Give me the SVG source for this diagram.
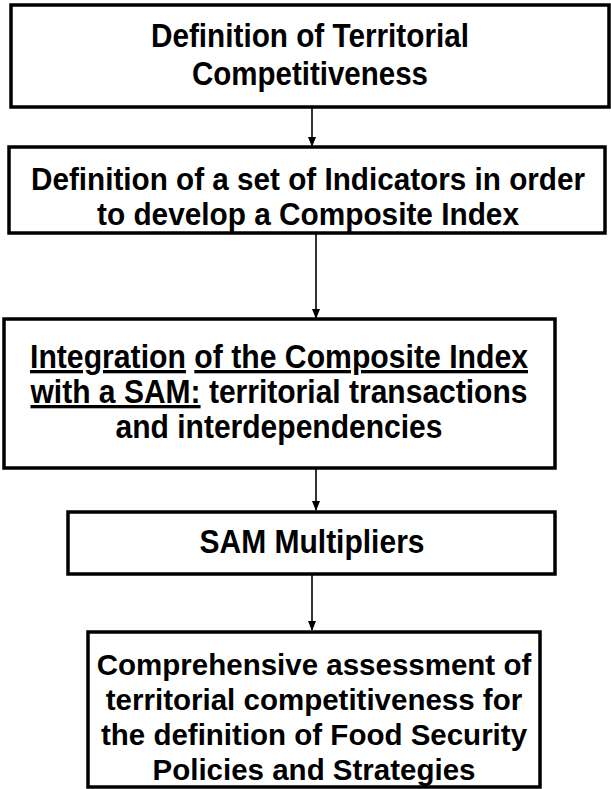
<svg xmlns="http://www.w3.org/2000/svg" width="611" height="789" viewBox="0 0 611 789">
<style>
.box{fill:#fff;stroke:#000;stroke-width:3.5}
.t{font-family:"Liberation Sans",Arial,sans-serif;font-weight:bold;font-size:33px;fill:#000;text-anchor:middle}
.t2{font-size:31px}
.t5{font-family:"Liberation Sans",Arial,sans-serif;font-weight:bold;font-size:29.5px;fill:#000;text-anchor:middle}
.u{text-decoration:underline}
.c{stroke:#000;stroke-width:1.6;fill:none}
</style>
<defs>
<marker id="ah" markerWidth="10" markerHeight="10" refX="9" refY="4" orient="auto" markerUnits="userSpaceOnUse" viewBox="0 0 10 8">
<path d="M0,0 L10,4 L0,8 Z" fill="#000"/>
</marker>
</defs>
<g id="connectors">
<line class="c" x1="312" y1="107" x2="312" y2="146" marker-end="url(#ah)"/>
<line class="c" x1="316" y1="233" x2="316" y2="318" marker-end="url(#ah)"/>
<line class="c" x1="316" y1="468" x2="316" y2="510" marker-end="url(#ah)"/>
<line class="c" x1="312" y1="574" x2="312" y2="630" marker-end="url(#ah)"/>
</g>
<g id="n1">
<rect class="box" x="11" y="5" width="598" height="102"/>
<text class="t" x="310" y="47" textLength="318" lengthAdjust="spacingAndGlyphs">Definition of Territorial</text>
<text class="t" x="310" y="85" textLength="236" lengthAdjust="spacingAndGlyphs">Competitiveness</text>
</g>
<g id="n2">
<rect class="box" x="9" y="147" width="596" height="86"/>
<text class="t t2" x="308" y="190" textLength="554" lengthAdjust="spacingAndGlyphs">Definition of a set of Indicators in order</text>
<text class="t t2" x="308" y="225" textLength="422" lengthAdjust="spacingAndGlyphs">to develop a Composite Index</text>
</g>
<g id="n3">
<rect class="box" x="4" y="319" width="551" height="149"/>
<text class="t" x="279" y="368" textLength="498" lengthAdjust="spacingAndGlyphs"><tspan class="u">Integration</tspan> <tspan class="u">of the Composite Index</tspan></text>
<text class="t" x="279" y="403" textLength="497" lengthAdjust="spacingAndGlyphs"><tspan class="u">with a SAM:</tspan> territorial transactions</text>
<text class="t" x="279" y="438" textLength="327" lengthAdjust="spacingAndGlyphs">and interdependencies</text>
</g>
<g id="n4">
<rect class="box" x="68" y="512" width="487" height="62"/>
<text class="t" x="312" y="553" textLength="225" lengthAdjust="spacingAndGlyphs">SAM Multipliers</text>
</g>
<g id="n5">
<rect class="box" x="88" y="632" width="452" height="155"/>
<text class="t5" x="314" y="675">Comprehensive assessment of</text>
<text class="t5" x="314" y="710">territorial competitiveness for</text>
<text class="t5" x="314" y="745">the definition of Food Security</text>
<text class="t5" x="314" y="780">Policies and Strategies</text>
</g>
</svg>
